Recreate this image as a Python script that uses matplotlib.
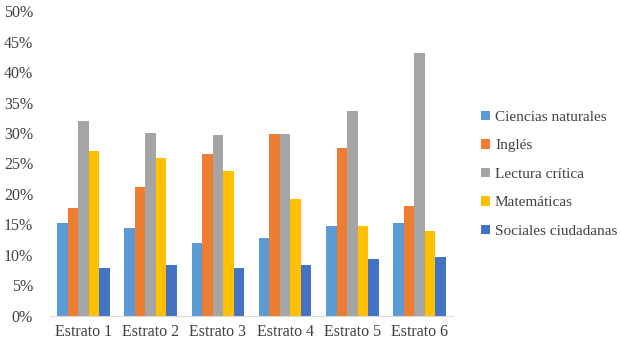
import matplotlib
matplotlib.use('Agg')
import matplotlib.pyplot as plt
import numpy as np

# data (percent)
estratos = ['Estrato 1', 'Estrato 2', 'Estrato 3', 'Estrato 4', 'Estrato 5', 'Estrato 6']
ciencias = [15.3, 14.4, 11.9, 12.7, 14.7, 15.2]
ingles = [17.7, 21.2, 26.6, 29.8, 27.6, 18.0]
lectura = [31.9, 30.0, 29.7, 29.8, 33.6, 43.2]
matematicas = [27.0, 25.9, 23.7, 19.2, 14.7, 13.9]
sociales = [7.9, 8.3, 7.8, 8.3, 9.3, 9.7]

series = [
    ('Ciencias naturales', ciencias, '#5B9BD5'),
    ('Inglés', ingles, '#ED7D31'),
    ('Lectura crítica', lectura, '#A5A5A5'),
    ('Matemáticas', matematicas, '#FFC000'),
    ('Sociales ciudadanas', sociales, '#4472C4'),
]

plt.rcParams['font.family'] = ['Liberation Serif', 'DejaVu Serif']

fig = plt.figure(figsize=(6.21, 3.46), dpi=100)
ax = fig.add_axes([0.08, 0.087, 0.65, 0.881])

x = np.arange(len(estratos))
w = 0.156
for i, (name, vals, col) in enumerate(series):
    ax.bar(x + (i - 2) * w, vals, width=w, color=col, label=name)

ax.set_xlim(-0.5, 5.5)
ax.set_ylim(0, 50)
ax.set_yticks(range(0, 51, 5))
ax.set_yticklabels([f'{v}%' for v in range(0, 51, 5)])
ax.set_xticks(x)
ax.set_xticklabels(estratos)
ax.tick_params(axis='both', length=0, labelsize=11.5, colors='#404040')
ax.tick_params(axis='x', pad=6)
ax.tick_params(axis='y', pad=12)

for s in ['top', 'right', 'left']:
    ax.spines[s].set_visible(False)
ax.spines['bottom'].set_color('#D9D9D9')

ax.legend(loc='center left', bbox_to_anchor=(1.035, 0.465), frameon=False,
          fontsize=11, handlelength=0.6, handleheight=0.6, handletextpad=0.3,
          labelspacing=1.0, labelcolor='#404040')

fig.savefig('out.png', dpi=100)
